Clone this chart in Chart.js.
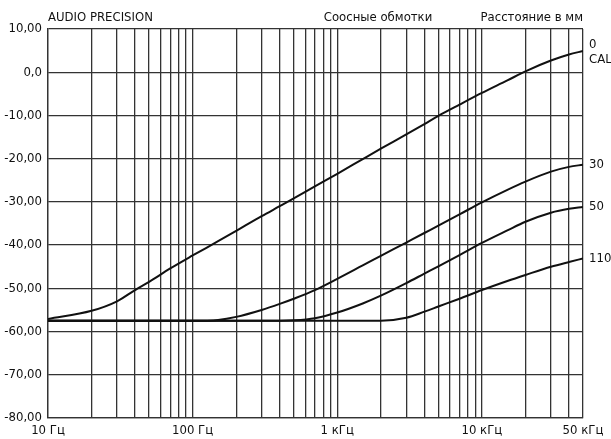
<!DOCTYPE html>
<html lang="ru">
<head>
<meta charset="UTF-8">
<title>Соосные обмотки</title>
<style>
  body { margin: 0; background: #fff; }
  #wrap { position: relative; width: 611px; height: 439px; }
</style>
</head>
<body>
<div id="wrap"><canvas id="chart"></canvas></div>
<script src="https://cdn.jsdelivr.net/npm/chart.js"></script>
<script>
    const freqs = [10, 20, 30, 40, 50, 70, 100, 150, 200, 300, 400, 500, 700, 1000, 1500, 2000, 3000, 4000, 5000, 7000, 10000, 15000, 20000, 30000, 40000, 50000];

    const cal0 = [-57.1, -55.2, -53.0, -50.4, -48.5, -45.4, -42.4, -39.1, -36.7, -33.3, -31.0, -29.2, -26.4, -23.5, -20.1, -17.7, -14.4, -12.0, -10.1, -7.5, -4.8, -1.9, 0.2, 2.7, 4.1, 4.9];
    const dist30 = [-57.5, -57.5, -57.5, -57.5, -57.5, -57.5, -57.5, -57.3, -56.6, -55.0, -53.6, -52.4, -50.4, -47.8, -44.7, -42.5, -39.4, -37.2, -35.5, -32.9, -30.1, -27.2, -25.3, -23.0, -21.9, -21.4];
    const dist50 = [-57.5, -57.5, -57.5, -57.5, -57.5, -57.5, -57.5, -57.5, -57.5, -57.5, -57.5, -57.4, -56.9, -55.6, -53.5, -51.7, -48.8, -46.6, -44.9, -42.3, -39.5, -36.6, -34.6, -32.5, -31.6, -31.2];
    const dist110 = [-57.5, -57.5, -57.5, -57.5, -57.5, -57.5, -57.5, -57.5, -57.5, -57.5, -57.5, -57.5, -57.5, -57.5, -57.5, -57.5, -56.8, -55.4, -54.2, -52.4, -50.4, -48.3, -46.9, -45.0, -43.9, -43.1];

    const seriesLabels = ['0\nCAL', '30', '50', '110'];

    const gridFreqs = [10, 20, 30, 40, 50, 60, 70, 80, 90, 100, 200, 300, 400, 500, 600, 700, 800, 900, 1000, 2000, 3000, 4000, 5000, 6000, 7000, 8000, 9000, 10000, 20000, 30000, 40000, 50000];
    const xTickLabels = { 10: '10 Гц', 100: '100 Гц', 1000: '1 кГц', 10000: '10 кГц', 50000: '50 кГц' };

    const FONT = '"Liberation Sans Narrow", "DejaVu Sans Condensed", "Liberation Sans", sans-serif';
    const INK = '#111';

    const series = [cal0, dist30, dist50, dist110];

    // labels at the right end of each curve + header texts
    const textPlugin = {
        id: 'texts',
        afterDraw(chart) {
            const { ctx, chartArea } = chart;
            const xs = chart.scales.x, ys = chart.scales.y;
            ctx.save();
            ctx.fillStyle = INK;
            ctx.font = '13px ' + FONT;
            ctx.textBaseline = 'middle';
            series.forEach((s, i) => {
                const lines = seriesLabels[i].split('\n');
                const x = xs.getPixelForValue(freqs[freqs.length - 1]) + 6;
                let y = ys.getPixelForValue(s[s.length - 1]);
                if (lines.length > 1) y -= 6;
                lines.forEach((t, k) => ctx.fillText(t, x, y + k * 15));
            });
            ctx.textBaseline = 'alphabetic';
            ctx.textAlign = 'left';
            ctx.fillText('AUDIO PRECISION', chartArea.left, 21);
            ctx.textAlign = 'center';
            ctx.fillText('Соосные обмотки', 378, 21);
            ctx.textAlign = 'right';
            ctx.fillText('Расстояние в мм', chartArea.right, 21);
            ctx.restore();
        }
    };

    new Chart(document.getElementById('chart'), {
        type: 'line',
        data: {
            labels: freqs,
            datasets: series.map((s, i) => ({
                label: seriesLabels[i],
                data: s.map((v, k) => ({ x: freqs[k], y: v })),
                borderColor: '#111',
                borderWidth: 2,
                pointRadius: 0,
                cubicInterpolationMode: 'monotone',
                fill: false
            }))
        },
        options: {
            responsive: true,
            maintainAspectRatio: false,
            animation: false,
            layout: { padding: { top: 29, right: 28, left: 0, bottom: 0 } },
            plugins: {
                legend: { display: false },
                tooltip: { enabled: false }
            },
            scales: {
                x: {
                    type: 'logarithmic',
                    min: 10,
                    max: 50000,
                    afterBuildTicks(axis) {
                        axis.ticks = gridFreqs.map(v => ({ value: v }));
                    },
                    afterFit(axis) { axis.height = 21; },
                    border: { color: '#333', width: 1.3 },
                    grid: { color: '#333', lineWidth: 1.3, drawTicks: false },
                    ticks: {
                        autoSkip: false,
                        maxRotation: 0,
                        padding: 5,
                        color: INK,
                        font: { family: FONT, size: 13 },
                        callback: v => xTickLabels[v] || ''
                    }
                },
                y: {
                    min: -80,
                    max: 10,
                    afterFit(axis) { axis.width = 48; },
                    border: { color: '#333', width: 1.3 },
                    grid: { color: '#333', lineWidth: 1.3, drawTicks: false },
                    ticks: {
                        stepSize: 10,
                        padding: 6,
                        color: INK,
                        font: { family: FONT, size: 13 },
                        callback: v => v === 0 ? '0,0' : v.toFixed(2).replace('.', ',')
                    }
                }
            }
        },
        plugins: [textPlugin]
    });
</script>
</body>
</html>
